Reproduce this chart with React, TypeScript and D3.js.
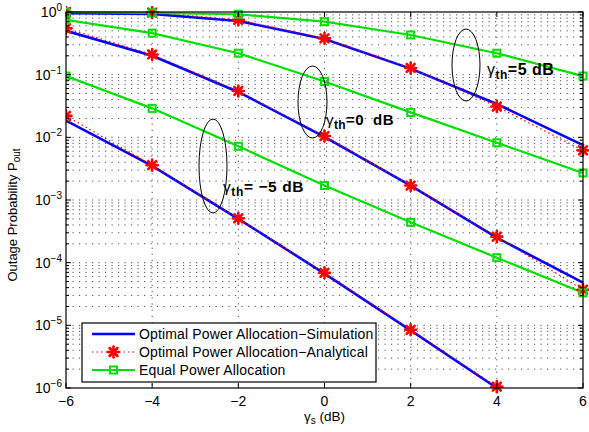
import React from 'react';
import * as d3 from 'd3';

// snr values (dB) on the x axis
const snr = [-6, -4, -2, 0, 2, 4, 6];
const xTicks = [-6, -4, -2, 0, 2, 4, 6];
const yDecades = [0, -1, -2, -3, -4, -5, -6];

// gamma_th = -5 dB
const simM5 = [0.0185, 0.0035, 5.0e-4, 6.7e-5, 8.3e-6, 1.0e-6];
const anaM5 = [0.022, 0.0036, 5.1e-4, 6.9e-5, 8.5e-6, 1.05e-6];
const eqM5 = [0.095, 0.029, 0.0072, 0.0017, 4.4e-4, 1.2e-4, 3.3e-5];
// gamma_th = 0 dB
const sim0 = [0.5, 0.2, 0.053, 0.0102, 0.0017, 2.5e-4, 4.8e-5];
const ana0 = [0.55, 0.21, 0.055, 0.0105, 0.0017, 2.6e-4, 3.7e-5];
const eq0 = [0.75, 0.46, 0.22, 0.078, 0.025, 0.0082, 0.0027];
// gamma_th = 5 dB
const sim5 = [0.96, 0.93, 0.72, 0.37, 0.125, 0.034, 0.0075];
const ana5 = [1.0, 0.98, 0.75, 0.38, 0.128, 0.031, 0.0062];
const eq5 = [1.0, 0.97, 0.92, 0.7, 0.43, 0.22, 0.095];

const simSeries = [simM5, sim0, sim5];
const anaSeries = [anaM5, ana0, ana5];
const eqSeries = [eqM5, eq0, eq5];

const legendLabels = [
  'Optimal Power Allocation\u2212Simulation',
  'Optimal Power Allocation\u2212Analytical',
  'Equal Power Allocation',
];

const font = 'Liberation Sans, Arial, Helvetica, sans-serif';

function Star({ x, y }: { x: number; y: number }) {
  const r = 5.5;
  const d = r * 0.72;
  return (
    <g stroke="#ff0000" strokeWidth={2.6} strokeLinecap="round">
      <line x1={x - r} y1={y} x2={x + r} y2={y} />
      <line x1={x} y1={y - r} x2={x} y2={y + r} />
      <line x1={x - d} y1={y - d} x2={x + d} y2={y + d} />
      <line x1={x - d} y1={y + d} x2={x + d} y2={y - d} />
      <circle cx={x} cy={y} r={3} fill="#ff0000" stroke="none" />
    </g>
  );
}

function Square({ x, y }: { x: number; y: number }) {
  return <rect x={x - 3.5} y={y - 3.5} width={7} height={7} fill="none" stroke="#00e000" strokeWidth={2} />;
}

export default function App() {
  const width = 589;
  const height = 432;
  const left = 66, right = 583, top = 12, bottom = 388;

  const x = d3.scaleLinear().domain([-6, 6]).range([left, right]);
  const y = d3.scaleLog().domain([1e-6, 1]).range([bottom, top]);

  const line = d3.line<number>().x((_, i) => x(snr[i])).y((d) => y(d));

  const minor: number[] = [];
  for (const e of yDecades.slice(1)) {
    for (let k = 2; k <= 9; k++) minor.push(k * Math.pow(10, e));
  }

  const gridColor = '#505050';

  return (
    <svg width={width} height={height} style={{ position: 'absolute', left: 0, top: 0, background: '#fff' }} fontFamily={font}>
      <defs>
        <clipPath id="plotclip">
          <rect x={left} y={top - 6} width={right - left + 6} height={bottom - top + 12} />
        </clipPath>
      </defs>
      <rect x={0} y={0} width={width} height={height} fill="#fff" />

      {/* grid */}
      {minor.map((v, i) => (
        <line key={'m' + i} x1={left} x2={right} y1={y(v)} y2={y(v)} stroke={gridColor} strokeWidth={1} strokeDasharray="1.2,5.3" />
      ))}
      {yDecades.slice(1, -1).map((e) => (
        <line key={'d' + e} x1={left} x2={right} y1={y(Math.pow(10, e))} y2={y(Math.pow(10, e))} stroke={gridColor} strokeWidth={1} strokeDasharray="1.2,5.3" />
      ))}
      {xTicks.slice(1, -1).map((t) => (
        <line key={'v' + t} x1={x(t)} x2={x(t)} y1={top} y2={bottom} stroke={gridColor} strokeWidth={1} strokeDasharray="1.2,5" />
      ))}

      {/* curves */}
      <g clipPath="url(#plotclip)">
        {simSeries.map((s, i) => (
          <path key={'s' + i} d={line(s) || ''} fill="none" stroke="#0000ff" strokeWidth={2.6} />
        ))}
        {anaSeries.map((s, i) => (
          <path key={'a' + i} d={line(s) || ''} fill="none" stroke="#ff0000" strokeWidth={1.2} strokeDasharray="1.5,3" />
        ))}
        {eqSeries.map((s, i) => (
          <path key={'e' + i} d={line(s) || ''} fill="none" stroke="#00e000" strokeWidth={2.2} />
        ))}
        {anaSeries.map((s, i) => s.map((v, j) => <Star key={'st' + i + '-' + j} x={x(snr[j])} y={y(v)} />))}
        {eqSeries.map((s, i) => s.map((v, j) => <Square key={'sq' + i + '-' + j} x={x(snr[j])} y={y(v)} />))}
      </g>

      {/* axes box and ticks */}
      <rect x={left} y={top} width={right - left} height={bottom - top} fill="none" stroke="#000" strokeWidth={1.2} />
      {xTicks.map((t) => (
        <g key={'xt' + t}>
          <line x1={x(t)} x2={x(t)} y1={bottom} y2={bottom - 5} stroke="#000" />
          <line x1={x(t)} x2={x(t)} y1={top} y2={top + 5} stroke="#000" />
          <text x={x(t)} y={bottom + 18} textAnchor="middle" fontSize={14} fill="#000">
            {t < 0 ? '\u2212' + Math.abs(t) : String(t)}
          </text>
        </g>
      ))}
      {yDecades.map((e) => (
        <g key={'yt' + e}>
          <line x1={left} x2={left + 5} y1={y(Math.pow(10, e))} y2={y(Math.pow(10, e))} stroke="#000" />
          <line x1={right} x2={right - 5} y1={y(Math.pow(10, e))} y2={y(Math.pow(10, e))} stroke="#000" />
          <text x={left - 4} y={y(Math.pow(10, e)) + 5} textAnchor="end" fontSize={14} fill="#000">
            10
            <tspan dy={-6} fontSize={10}>{e < 0 ? '\u2212' + Math.abs(e) : String(e)}</tspan>
          </text>
        </g>
      ))}
      {minor.map((v, i) => (
        <g key={'mt' + i}>
          <line x1={left} x2={left + 3} y1={y(v)} y2={y(v)} stroke="#000" />
          <line x1={right} x2={right - 3} y1={y(v)} y2={y(v)} stroke="#000" />
        </g>
      ))}

      {/* axis labels */}
      <text x={x(0)} y={421} textAnchor="middle" fontSize={13.5} fill="#000">
        {'\u03b3'}
        <tspan dy={3} fontSize={10}>s</tspan>
        <tspan dy={-3}> (dB)</tspan>
      </text>
      <text transform={`translate(17,215) rotate(-90)`} textAnchor="middle" fontSize={13} fill="#000">
        Outage Probability P
        <tspan dy={3} fontSize={10}>out</tspan>
      </text>

      {/* annotations */}
      <ellipse cx={213} cy={166} rx={14} ry={47} fill="none" stroke="#000" strokeWidth={1} />
      <text x={223} y={192} fontSize={15.5} fontWeight="bold" fill="#000" letterSpacing={0.6}>
        <tspan fontWeight="normal">{'\u03b3'}</tspan>
        <tspan dy={4} fontSize={12}>th</tspan>
        <tspan dy={-4}>= {'\u2212'}5 dB</tspan>
      </text>
      <ellipse cx={312.5} cy={102} rx={14.5} ry={36} fill="none" stroke="#000" strokeWidth={1} />
      <text x={326} y={125} fontSize={15} fontWeight="bold" fill="#000" letterSpacing={0.4}>
        <tspan fontWeight="normal">{'\u03b3'}</tspan>
        <tspan dy={4} fontSize={12}>th</tspan>
        <tspan dy={-4}>{'=0\u00a0\u00a0dB'}</tspan>
      </text>
      <ellipse cx={466} cy={65} rx={14} ry={36} fill="none" stroke="#000" strokeWidth={1} />
      <text x={487} y={75} fontSize={16} fontWeight="bold" fill="#000" letterSpacing={0.5}>
        <tspan fontWeight="normal">{'\u03b3'}</tspan>
        <tspan dy={4} fontSize={12}>th</tspan>
        <tspan dy={-4}>=5 dB</tspan>
      </text>

      {/* legend */}
      <g>
        <rect x={82} y={323} width={294} height={59} fill="#fff" stroke="#000" strokeWidth={1.2} />
        {legendLabels.map((lab, i) => {
          const ly = 334 + i * 18;
          return (
            <g key={'lg' + i}>
              {i === 0 && <line x1={92} x2={135} y1={ly} y2={ly} stroke="#0000ff" strokeWidth={2.6} />}
              {i === 1 && (
                <>
                  <line x1={92} x2={135} y1={ly} y2={ly} stroke="#ff0000" strokeWidth={1.2} strokeDasharray="1.5,3" />
                  <Star x={113.5} y={ly} />
                </>
              )}
              {i === 2 && (
                <>
                  <line x1={92} x2={135} y1={ly} y2={ly} stroke="#00e000" strokeWidth={2.2} />
                  <Square x={113.5} y={ly} />
                </>
              )}
              <text x={139} y={ly + 5} fontSize={14} fill="#000" letterSpacing={0.15}>{lab}</text>
            </g>
          );
        })}
      </g>
    </svg>
  );
}
